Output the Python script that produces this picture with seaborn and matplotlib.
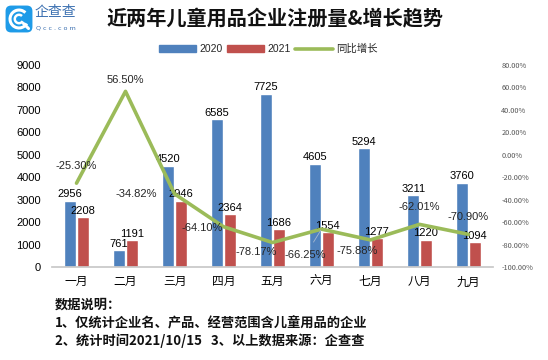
import matplotlib
matplotlib.use("Agg")
import matplotlib.pyplot as plt
from matplotlib.patches import FancyBboxPatch, Patch, Arc
from matplotlib.lines import Line2D
import seaborn as sns
import pandas as pd
import numpy as np

months = ["一月", "二月", "三月", "四月", "五月", "六月", "七月", "八月", "九月"]
reg_2020 = [2956, 761, 4520, 6585, 7725, 4605, 5294, 3211, 3760]
reg_2021 = [2208, 1191, 2946, 2364, 1686, 1554, 1277, 1220, 1094]
growth = [-25.30, 56.50, -34.82, -64.10, -78.17, -66.25, -75.88, -62.01, -70.90]

title = "近两年儿童用品企业注册量&增长趋势"
notes = ["数据说明：",
         "1、仅统计企业名、产品、经营范围含儿童用品的企业",
         "2、统计时间2021/10/15   3、以上数据来源：企查查"]

BLUE, RED, GREEN = "#4F81BD", "#C0504D", "#9BBB59"
NUM_FONT = ["Liberation Sans", "Noto Sans CJK SC"]

sns.set_theme(style="white")
plt.rcParams["font.family"] = ["Noto Sans CJK SC", "DejaVu Sans"]

df = pd.DataFrame({
    "month": months * 2,
    "count": reg_2020 + reg_2021,
    "year": ["2020"] * len(months) + ["2021"] * len(months),
})

fig = plt.figure(figsize=(5.48, 3.6), dpi=100)
W, H = 548, 360
ax = fig.add_axes([52 / W, 1 - 267 / H, 441 / W, 202 / H])

sns.barplot(data=df, x="month", y="count", hue="year", order=months,
            palette=[BLUE, RED], width=0.52, gap=0.1, saturation=1,
            legend=False, ax=ax)
for cont in ax.containers:
    ax.bar_label(cont, padding=1, fontsize=8, color="black", family=NUM_FONT)

ax.set_ylim(0, 9000)
ax.set_yticks(range(0, 9001, 1000))
ax.set_xlim(-0.5, len(months) - 0.5)
ax.set_xlabel("")
ax.set_ylabel("")
ax.tick_params(axis="y", labelsize=8, length=0, pad=8, labelcolor="black")
ax.tick_params(axis="x", labelsize=8.5, length=0, pad=6, labelcolor="black")
for lab in ax.get_yticklabels():
    lab.set_family(NUM_FONT)
for s in ["left", "right", "top"]:
    ax.spines[s].set_visible(False)
ax.spines["bottom"].set_color("#C8C8C8")

ax2 = ax.twinx()
x = np.arange(len(months))
sns.lineplot(x=x, y=growth, color=GREEN, linewidth=2.6, ax=ax2)
ax2.set_ylim(-100, 80)
ax2.set_yticks(range(-100, 81, 20))
ax2.set_yticklabels([f"{v:.2f}%" for v in range(-100, 81, 20)])
ax2.tick_params(axis="y", labelsize=5.3, length=0, pad=6, labelcolor="#555555")
for s in ["left", "right", "top", "bottom"]:
    ax2.spines[s].set_visible(False)

label_offsets = [(0, 17), (0, 11), (-38, 0), (-21, -1), (-16, -9),
                 (-16, -26), (-13, -11), (0, 17), (0, 17)]
for i, (g, off) in enumerate(zip(growth, label_offsets)):
    arrow = None
    if i == 5:
        arrow = dict(arrowstyle="-", color="#A6B8D0", lw=0.6,
                     shrinkA=4, shrinkB=1)
    ax2.annotate(f"{g:.2f}%", (i, g), xytext=off, textcoords="offset pixels",
                 ha="center", va="center", fontsize=8, family=NUM_FONT,
                 arrowprops=arrow)

# title
fig.text(275 / W, 1 - 19 / H, title, ha="center", va="center",
         fontsize=14.5, fontweight="bold", color="#111111")

# logo
lax = fig.add_axes([5 / W, 1 - 33 / H, 28 / W, 28 / H])
lax.set_xlim(0, 1)
lax.set_ylim(0, 1)
lax.axis("off")
lax.add_patch(FancyBboxPatch((0.02, 0.02), 0.96, 0.96,
                             boxstyle="round,pad=0,rounding_size=0.2",
                             facecolor="#1E9BE8", edgecolor="none"))
lax.add_patch(Arc((0.5, 0.5), 0.64, 0.64, theta1=45, theta2=330,
                  color="white", lw=2.2))
lax.add_patch(Arc((0.5, 0.5), 0.3, 0.3, theta1=45, theta2=330,
                  color="white", lw=1.8))
lax.plot([0.66, 0.84], [0.34, 0.16], color="white", lw=2.2)
fig.text(35 / W, 1 - 12 / H, "企查查", ha="left", va="center",
         fontsize=10, color="#3A6FB0")
fig.text(36 / W, 1 - 28 / H, "Q c c . c o m", ha="left", va="center",
         fontsize=4.6, color="#3A6FB0", family=["DejaVu Sans"])

handles = [Patch(color=BLUE), Patch(color=RED),
           Line2D([0], [0], color=GREEN, lw=2.6)]
fig.legend(handles, ["2020", "2021", "同比增长"], loc="center",
           bbox_to_anchor=(268 / W, 1 - 49 / H), ncol=3, frameon=False,
           prop={"family": NUM_FONT, "size": 7.5}, handlelength=3.6,
           handleheight=0.55, handletextpad=0.3, columnspacing=0.4)

for k, line in enumerate(notes):
    fig.text(55 / W, 1 - (305 + 18 * k) / H, line, ha="left", va="center",
             fontsize=9.5, fontweight="bold", color="#111111")

fig.savefig("out.png", dpi=100, facecolor="white")
